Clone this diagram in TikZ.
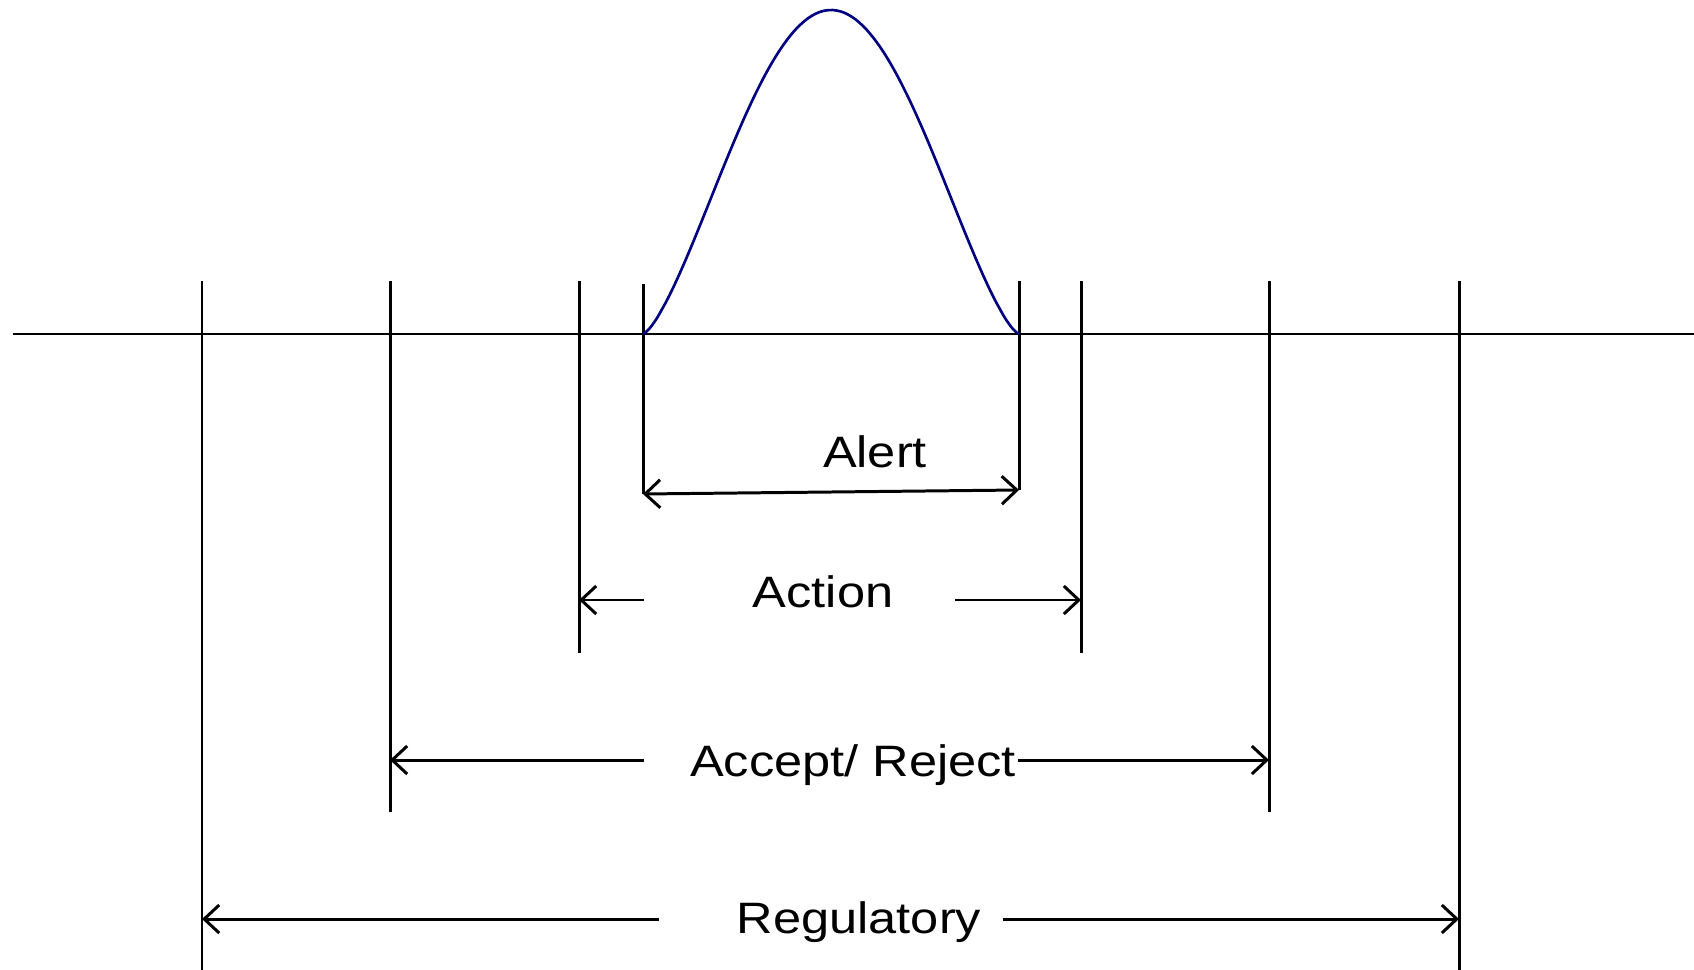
\documentclass[tikz,border=0pt]{standalone}
\usepackage{fontspec}
\setmainfont{Liberation Sans}[FakeStretch=1.15]
\usetikzlibrary{arrows.meta}
\definecolor{curveblue}{RGB}{0,0,128}

\begin{document}
\begin{tikzpicture}[x=0.01cm, y=-0.01cm, line width=0.85pt,
    >={Straight Barb[length=1.5mm,width=2.8mm]},
    limtext/.style={anchor=base, font=\fontsize{12.5}{15}\selectfont}]

    % Parameters
    \def\base{334}   % axis height
    \def\top{281}    % top of the limit lines

    \useasboundingbox (0,0) rectangle (1694,970);

    % Axis
    \coordinate (axL) at (13,\base);
    \coordinate (axR) at (1694,\base);
    \draw (axL) -- (axR);

    % Limit lines (name/x/bottom)
    \foreach \n/\x/\y in {regL/202/970, accL/390/812, actL/579/653,
                          actR/1081/653, accR/1269/812, regR/1459/970}{
      \draw (\x,\top) -- (\x,\y) coordinate (\n);
    }

    % Alert lines
    \draw (643,284) -- (643,494) coordinate (alL);
    \draw (1019,281) -- (1019,490) coordinate (alR);

    % Distribution curve
    \draw[curveblue, line width=0.75pt]
      (643,\base) -- plot[domain=0.005:0.995, samples=90, smooth]
      ({643+376*\x}, {\base-324*sin(180*\x)^1.4}) -- (1019,\base);

    % Labels
    \node[limtext] (alert)  at (875,467) {Alert};
    \node[limtext] (action) at (823,607) {Action};
    \node[limtext] (accrej) at (853,776) {Accept/ Reject};
    \node[limtext] (reg)    at (859,933) {Regulatory};

    % Alert range
    \draw[<->] (alL) -- (alR);

    % Action range
    \coordinate (actA) at (644,600);
    \coordinate (actB) at (955,600);
    \draw[->] (actA) -- (actA -| actL);
    \draw[->] (actB) -- (actB -| actR);

    % Accept / reject range
    \coordinate (accA) at (644,760);
    \coordinate (accB) at (1018,760);
    \draw[->] (accA) -- (accA -| accL);
    \draw[->] (accB) -- (accB -| accR);

    % Regulatory range
    \coordinate (regA) at (659,919);
    \coordinate (regB) at (1003,919);
    \draw[->] (regA) -- (regA -| regL);
    \draw[->] (regB) -- (regB -| regR);
\end{tikzpicture}
\end{document}
